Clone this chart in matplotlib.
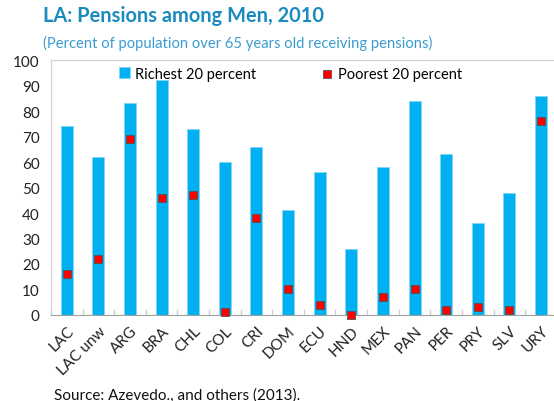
import numpy as np
import matplotlib
matplotlib.use("Agg")
import matplotlib.pyplot as plt

# Data
countries = ["LAC", "LAC unw", "ARG", "BRA", "CHL", "COL", "CRI", "DOM",
             "ECU", "HND", "MEX", "PAN", "PER", "PRY", "SLV", "URY"]
richest = [74, 62, 83, 92, 73, 60, 66, 41, 56, 26, 58, 84, 63, 36, 48, 86]
poorest = [16, 22, 69, 46, 47, 1, 38, 10, 4, 0, 7, 10, 2, 3, 2, 76]
yticks = list(range(0, 101, 10))

plt.rcParams['font.family'] = ['Lato', 'DejaVu Sans']

title_color = '#1A8BBE'
bar_color = '#00B0F0'

fig = plt.figure(figsize=(5.54, 4.02), dpi=100)
ax = fig.add_axes([0.092, 0.214, 0.913, 0.634])

x = np.arange(len(countries))
bars = ax.bar(x, richest, width=0.38, color=bar_color, edgecolor='#7FD6F5',
              linewidth=0.6, label='Richest 20 percent', zorder=2)
pts = ax.scatter(x, poorest, marker='s', s=30, color='#FF0000', edgecolor='#555555',
                 linewidth=0.6, label='Poorest 20 percent', zorder=3, clip_on=False)

ax.set_xlim(-0.5, len(countries) - 0.5)
ax.set_ylim(0, 100)
ax.set_yticks(yticks)
ax.tick_params(axis='y', length=0, labelsize=11, pad=8, labelcolor='#222222')

# category labels, boundary ticks
ax.set_xticks(x)
ax.set_xticklabels(countries, rotation=45, ha='right', rotation_mode='anchor',
                   fontsize=11, color='#222222')
ax.tick_params(axis='x', length=0, pad=6)
ax.set_xticks(np.arange(-0.5, len(countries), 1), minor=True)
ax.tick_params(axis='x', which='minor', direction='in', length=4,
               color='#D0D0D0', width=1)

ax.spines['right'].set_visible(False)
ax.spines['top'].set_color('#D0D0D0')
ax.spines['left'].set_color('#D0D0D0')
ax.spines['bottom'].set_color('#A0A0A0')

ax.legend([bars, pts], ['Richest 20 percent', 'Poorest 20 percent'],
          loc='upper left', bbox_to_anchor=(0.109, 1.025), ncol=2, frameon=False,
          fontsize=10.5, handlelength=0.75, handleheight=0.75, handletextpad=0.35,
          columnspacing=4.5, markerscale=1.0)

fig.text(0.078, 0.945, 'LA: Pensions among Men, 2010', fontsize=14.4,
         fontweight='bold', color=title_color)
fig.text(0.078, 0.88, '(Percent of population over 65 years old receiving pensions)',
         fontsize=10.6, color='#3A9BD0')
fig.text(0.098, 0.005, 'Source: Azevedo., and others (2013).', fontsize=11,
         color='#111111')

fig.savefig('out.png', dpi=100)
